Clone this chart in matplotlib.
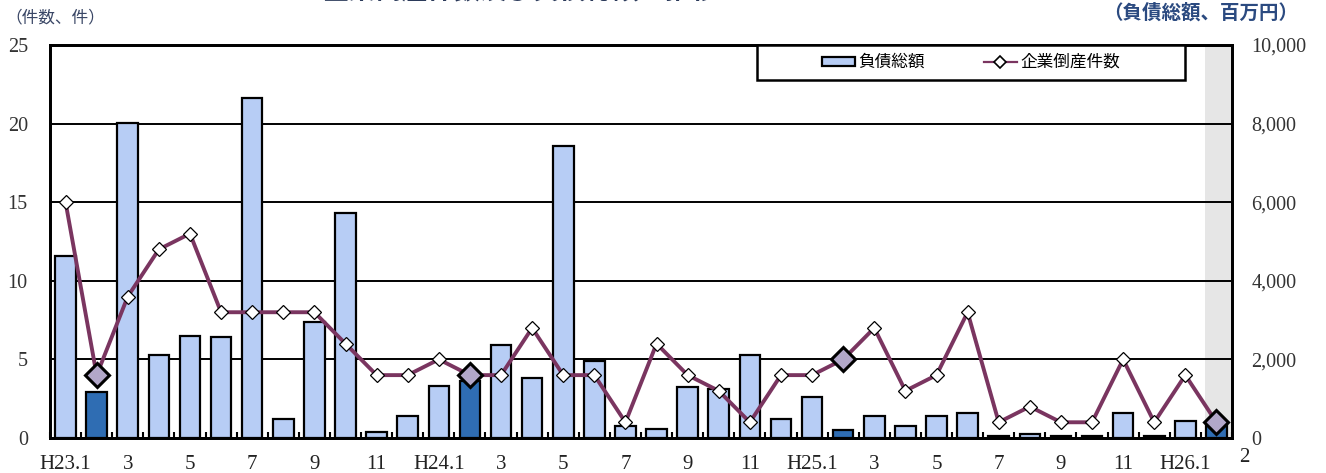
import matplotlib
matplotlib.use('Agg')
import matplotlib.pyplot as plt
import matplotlib.transforms as mtransforms
from matplotlib.patches import Patch, Rectangle
from matplotlib.lines import Line2D
from matplotlib.ticker import FuncFormatter, FixedLocator

plt.rcParams['font.family'] = ['Noto Sans CJK JP', 'DejaVu Sans']

# ---- data -------------------------------------------------------------
months = list(range(1, 13)) * 3 + [1, 2]
debt = [4630, 1160, 8020, 2120, 2600, 2560, 8640, 480, 2960, 5720, 160, 560,
        1320, 1440, 2360, 1520, 7440, 1960, 300, 230, 1300, 1250, 2110, 480,
        1040, 200, 560, 300, 560, 640, 40, 100, 50, 60, 640, 40,
        440, 330]
cases = [15, 4, 9, 12, 13, 8, 8, 8, 8, 6, 4, 4,
         5, 4, 4, 7, 4, 4, 1, 6, 4, 3, 1, 4,
         4, 5, 7, 3, 4, 8, 1, 2, 1, 1, 5, 1,
         4, 1]
xtick_labels = ['H23.1', '', '3', '', '5', '', '7', '', '9', '', '11', '',
                'H24.1', '', '3', '', '5', '', '7', '', '9', '', '11', '',
                'H25.1', '', '3', '', '5', '', '7', '', '9', '', '11', '',
                'H26.1', '2']
bar_label = '負債総額'
line_label = '企業倒産件数'
left_unit = '（件数、件）'
right_unit = '（負債総額、百万円）'
title = '企業倒産件数及び負債総額の推移'

# ---- styling ----------------------------------------------------------
light_blue = '#b7cdf5'
dark_blue = '#2f6db3'
line_col = '#7a3560'
hl_face = '#b2a7c9'
serif = ['Liberation Serif', 'DejaVu Serif']

n = len(debt)
x = list(range(n))
is_hl = [m == 2 for m in months]

W, H = 1326, 473
fig = plt.figure(figsize=(W / 100, H / 100), dpi=100)
ax2 = fig.add_axes([50 / W, 35 / H, 1182 / W, 393 / H])
ax = ax2.twinx()
ax.set_zorder(ax2.get_zorder() + 1)
ax.patch.set_visible(False)

# shaded latest month
ax2.axvspan(36.62, 37.5, color='#e6e6e6', zorder=0.2, lw=0)

# bars (right axis)
colors = [dark_blue if h else light_blue for h in is_hl]
ax2.bar(x, debt, width=0.66, color=colors, edgecolor='black', linewidth=1.6,
        zorder=2)
ax2.set_ylim(0, 10000)
ax2.set_xlim(-0.5, n - 0.5)
ax2.set_axisbelow(True)
ax2.yaxis.grid(True, color='black', linewidth=1.4)
ax2.set_yticks(range(0, 10001, 2000))
ax2.yaxis.set_major_formatter(FuncFormatter(lambda v, p: f'{int(v):,}'))

# line (left axis)
ax.plot(x, cases, color=line_col, linewidth=2.8, marker='D', markersize=7,
        markerfacecolor='white', markeredgecolor='black', markeredgewidth=0.9,
        zorder=3)
hx = [i for i in x if is_hl[i]]
hy = [cases[i] for i in x if is_hl[i]]
ax.plot(hx, hy, linestyle='none', marker='D', markersize=12,
        markerfacecolor=hl_face, markeredgecolor='black', markeredgewidth=2.2,
        zorder=4)
ax.set_ylim(0, 25)
ax.set_yticks(range(0, 26, 5))

# tick label sides: counts on left, debt on right
ax.yaxis.tick_left()
ax2.yaxis.tick_right()
ax.tick_params(axis='y', length=0, pad=16, labelsize=14.5, labelcolor='#333333')
ax2.tick_params(axis='y', length=0, pad=14, labelsize=14.5, labelcolor='#333333')
for t in ax.get_yticklabels() + ax2.get_yticklabels():
    t.set_fontfamily(serif)

# x ticks
ax2.set_xticks(x)
ax2.set_xticklabels(xtick_labels, fontfamily=serif, fontsize=15, color='#222222')
ax2.tick_params(axis='x', which='major', length=0, pad=12.5)
ax2.xaxis.set_minor_locator(FixedLocator([i + 0.5 for i in range(-1, n)]))
ax2.tick_params(axis='x', which='minor', direction='in', length=4, width=1.5)
lbls = ax2.get_xticklabels()
lbls[-1].set_transform(lbls[-1].get_transform() +
                       mtransforms.ScaledTranslation(0.28, 0.07, fig.dpi_scale_trans))

for a in (ax, ax2):
    for s in a.spines.values():
        s.set_linewidth(2.0)
        s.set_color('black')

# legend: frame drawn as a rectangle, content centred inside
x0, x1 = (757 - 50) / 1182, (1185 - 50) / 1182
y0 = (438 - 80) / 393
ax.add_patch(Rectangle((x0, y0), x1 - x0, 1 - y0, transform=ax.transAxes,
                       facecolor='white', edgecolor='black', linewidth=1.8,
                       zorder=9))
handles = [Patch(facecolor=light_blue, edgecolor='black', linewidth=1.6),
           Line2D([], [], color=line_col, linewidth=1.6, marker='D', markersize=6,
                  markerfacecolor='white', markeredgecolor='black',
                  markeredgewidth=1.2)]
leg = ax.legend(handles, [bar_label, line_label], ncol=2,
                bbox_to_anchor=((x0 + x1) / 2, (y0 + 1) / 2), loc='center',
                frameon=False, borderaxespad=0, borderpad=0,
                fontsize=12, handlelength=2.0, handleheight=0.45,
                handletextpad=0.2, columnspacing=3.5)
leg.set_zorder(10)

# unit labels and (clipped) title
fig.text(5 / W, 1 - 18 / H, left_unit, fontsize=12, color='#3a4766',
         va='center', ha='left')
fig.text(1298 / W, 1 - 13 / H, right_unit, fontsize=14, color='#2b4a80',
         va='center', ha='right', fontweight='bold')
fig.text(520 / W, 1 - 5 / H, title, fontsize=19, color='#2b3a5a',
         va='bottom', ha='center', fontweight='bold')

fig.savefig('out.png', dpi=100)
